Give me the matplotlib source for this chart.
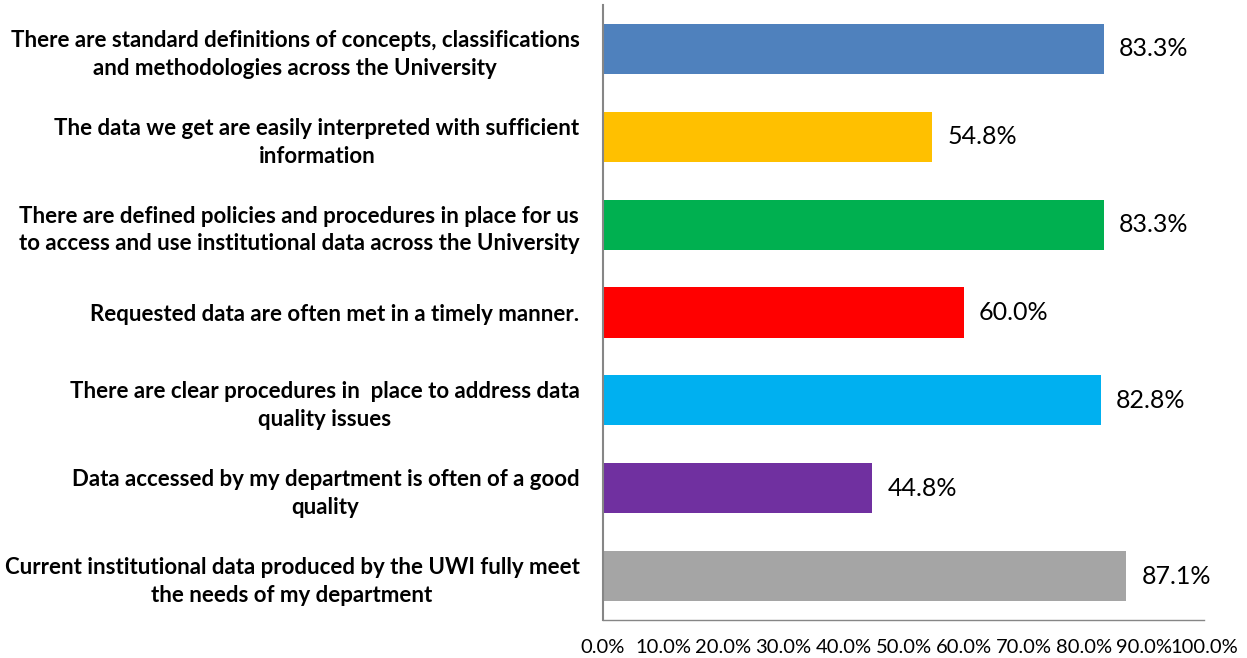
import matplotlib.pyplot as plt
import numpy as np

# Survey statements (top to bottom) and percent agreeing
statements = [
    'There are standard definitions of concepts, classifications\nand methodologies across the University',
    'The data we get are easily interpreted with sufficient\ninformation',
    'There are defined policies and procedures in place for us\nto access and use institutional data across the University',
    'Requested data are often met in a timely manner.',
    'There are clear procedures in  place to address data\nquality issues',
    'Data accessed by my department is often of a good\nquality',
    'Current institutional data produced by the UWI fully meet\nthe needs of my department',
]
percents = [83.3, 54.8, 83.3, 60.0, 82.8, 44.8, 87.1]
bar_colors = ['#4F81BD', '#FFC000', '#00B050', '#FF0000', '#00B0F0', '#7030A0', '#A5A5A5']
x_ticks = np.arange(0, 101, 10)

plt.rcParams['font.family'] = ['Lato', 'DejaVu Sans']

fig = plt.figure(figsize=(12.47, 6.58), dpi=100)
ax = fig.add_axes([603 / 1247, 1 - 620 / 658, (1204 - 603) / 1247, 615 / 658])

y = np.arange(len(statements))
ax.barh(y, percents, height=0.57, color=bar_colors)

for yi, p in zip(y, percents):
    ax.text(p + 2.5, yi, f'{p:.1f}%', va='center', ha='left', fontsize=18)

ax.set_ylim(len(statements) - 0.5, -0.5)
ax.set_xlim(0, 100)
ax.set_yticks(y)
ax.set_yticklabels(statements, fontsize=16, fontweight='bold',
                   multialignment='center', linespacing=1.4)
ax.set_xticks(x_ticks)
ax.set_xticklabels([f'{t:.1f}%' for t in x_ticks], fontsize=14.5)
ax.tick_params(axis='y', length=0, pad=17)
ax.tick_params(axis='x', length=0, pad=14)

for s in ['top', 'right']:
    ax.spines[s].set_visible(False)
ax.spines['left'].set_color('#868686')
ax.spines['left'].set_linewidth(1.5)
ax.spines['bottom'].set_color('#868686')
ax.spines['bottom'].set_linewidth(1.0)

fig.savefig('out.png', dpi=100)
